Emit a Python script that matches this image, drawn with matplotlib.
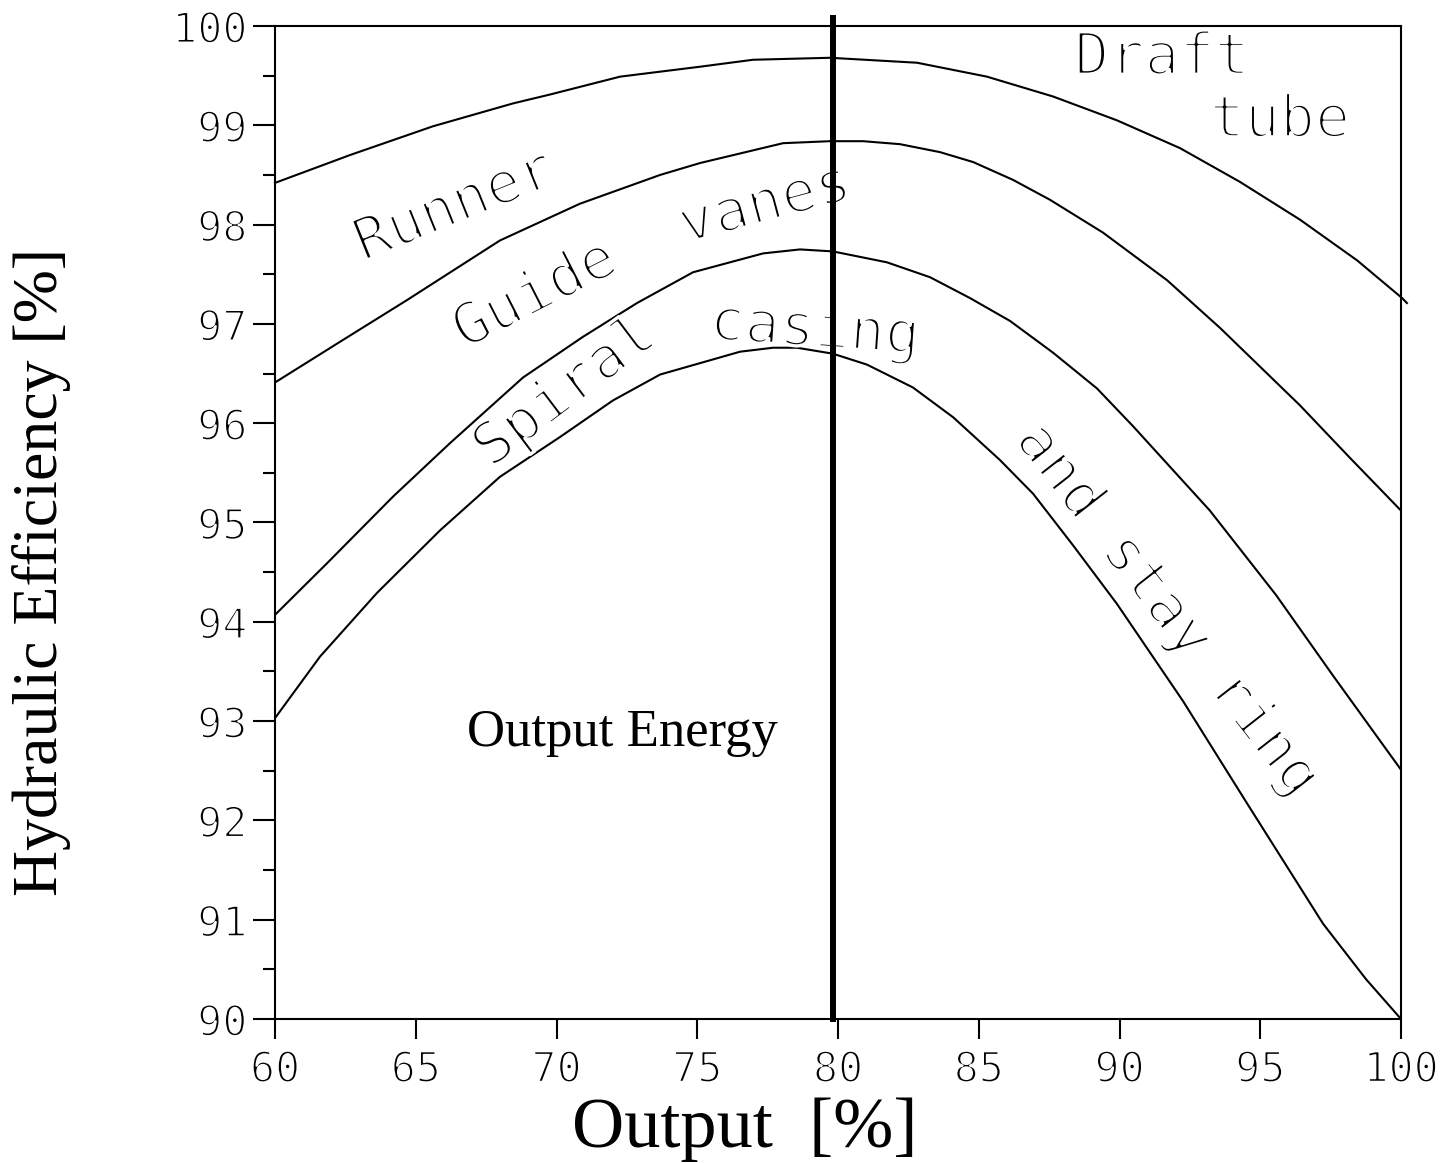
import matplotlib
matplotlib.use("Agg")
import matplotlib.pyplot as plt
import matplotlib.patheffects as pe
from matplotlib.ticker import MultipleLocator

# curves (output %, efficiency %)
draft_x = [60, 62.66, 65.61, 68.45, 69.77, 72.26, 75.10, 76.98, 79.72, 82.81, 85.29,
           87.64, 89.91, 92.15, 94.28, 96.41, 98.44, 100.04, 100.21]
draft_y = [98.42, 98.70, 98.99, 99.22, 99.31, 99.49, 99.59, 99.66, 99.68, 99.63, 99.49,
           99.29, 99.05, 98.77, 98.43, 98.05, 97.64, 97.26, 97.21]

runner_x = [60, 62.31, 64.69, 67.99, 70.83, 73.68, 75.10, 78.05, 79.72, 80.89, 82.20,
            83.62, 84.80, 86.22, 87.53, 89.41, 91.69, 93.57, 96.41, 98.19, 100]
runner_y = [96.41, 96.82, 97.24, 97.84, 98.21, 98.50, 98.62, 98.82, 98.84, 98.84, 98.81,
            98.73, 98.63, 98.45, 98.25, 97.92, 97.44, 96.96, 96.18, 95.65, 95.12]

guide_x = [60, 61.85, 64.19, 66.22, 68.81, 70.94, 72.86, 74.85, 77.34, 78.65, 79.82,
           81.74, 83.27, 84.69, 86.11, 87.64, 89.20, 90.48, 93.21, 95.56, 97.58, 100]
guide_y = [94.07, 94.59, 95.26, 95.80, 96.46, 96.87, 97.21, 97.52, 97.71, 97.75, 97.73,
           97.62, 97.47, 97.26, 97.03, 96.71, 96.35, 95.97, 95.12, 94.27, 93.46, 92.51]

spiral_x = [60, 61.60, 63.62, 65.86, 67.99, 70.12, 72.01, 73.68, 76.52, 77.69, 78.54,
            79.82, 81.03, 82.66, 84.09, 85.75, 86.93, 88.35, 89.91, 92.26, 94.49,
            97.23, 98.76, 100]
spiral_y = [93.03, 93.65, 94.29, 94.92, 95.46, 95.86, 96.23, 96.49, 96.72, 96.76, 96.76,
            96.70, 96.59, 96.36, 96.06, 95.63, 95.29, 94.77, 94.18, 93.20, 92.19,
            90.96, 90.40, 90.00]

design_point = 79.82

xticks = [60, 65, 70, 75, 80, 85, 90, 95, 100]
yticks = [90, 91, 92, 93, 94, 95, 96, 97, 98, 99, 100]

# labels: text, x, y, rotation
zone_labels = [
    ("Runner", 66.39, 98.18, 22),
    ("Guide", 69.24, 97.29, 27),
    ("vanes", 77.41, 98.20, 15),
    ("Spiral", 70.30, 96.31, 37),
    ("casing", 79.18, 96.94, -4),
    ("and stay ring", 91.70, 94.12, -52),
    ("Draft", 91.51, 99.68, 0),
    ("tube", 95.70, 99.05, 0),
]

mono = "DejaVu Sans Mono"
serif = "Liberation Serif"

# thin the mono glyphs so they look like the plotter stroke font
thin_big = [pe.Stroke(linewidth=2.4, foreground="white")]
thin_small = [pe.Stroke(linewidth=1.4, foreground="white")]

fig = plt.figure(figsize=(14.53, 11.63), dpi=100)
ax = fig.add_axes([275 / 1453, 1 - 1019 / 1163, 1126 / 1453, 993 / 1163])

lw = 1.5
ax.plot(draft_x, draft_y, color="black", lw=lw, clip_on=False)
ax.plot(runner_x, runner_y, color="black", lw=lw)
ax.plot(guide_x, guide_y, color="black", lw=lw)
ax.plot(spiral_x, spiral_y, color="black", lw=lw)
ax.plot([design_point, design_point], [90, 100.08], color="black", lw=4.3,
        clip_on=False, zorder=5)

for txt, x, y, rot in zone_labels:
    ax.text(x, y, txt, rotation=rot, ha="center", va="center", family=mono,
            fontsize=42, rotation_mode="anchor", path_effects=thin_big)

ax.text(72.36, 92.88, "Output Energy", ha="center", va="center", family=serif, fontsize=38)

ax.set_xlim(60, 100)
ax.set_ylim(90, 100)
ax.set_xticks(xticks)
ax.set_yticks(yticks)
ax.yaxis.set_minor_locator(MultipleLocator(0.5))
ax.tick_params(axis="both", which="major", direction="out", width=lw, color="black")
ax.tick_params(axis="y", which="major", length=16, pad=4)
ax.tick_params(axis="y", which="minor", length=8.6, width=lw)
ax.tick_params(axis="x", which="major", length=14.4, pad=7)
for lab in ax.get_xticklabels() + ax.get_yticklabels():
    lab.set_family(mono)
    lab.set_fontsize(30)
    lab.set_path_effects(thin_small)
for sp in ax.spines.values():
    sp.set_linewidth(lw)

ax.set_xlabel("Output  [%]", family=serif, fontsize=52)
ax.xaxis.set_label_coords(0.417, -0.079)
fig.text(42 / 1453, 1 - 572 / 1163, "Hydraulic Efficiency [%]", rotation=90,
         ha="center", va="center", family=serif, fontsize=46)

fig.savefig("out.png", dpi=100)
